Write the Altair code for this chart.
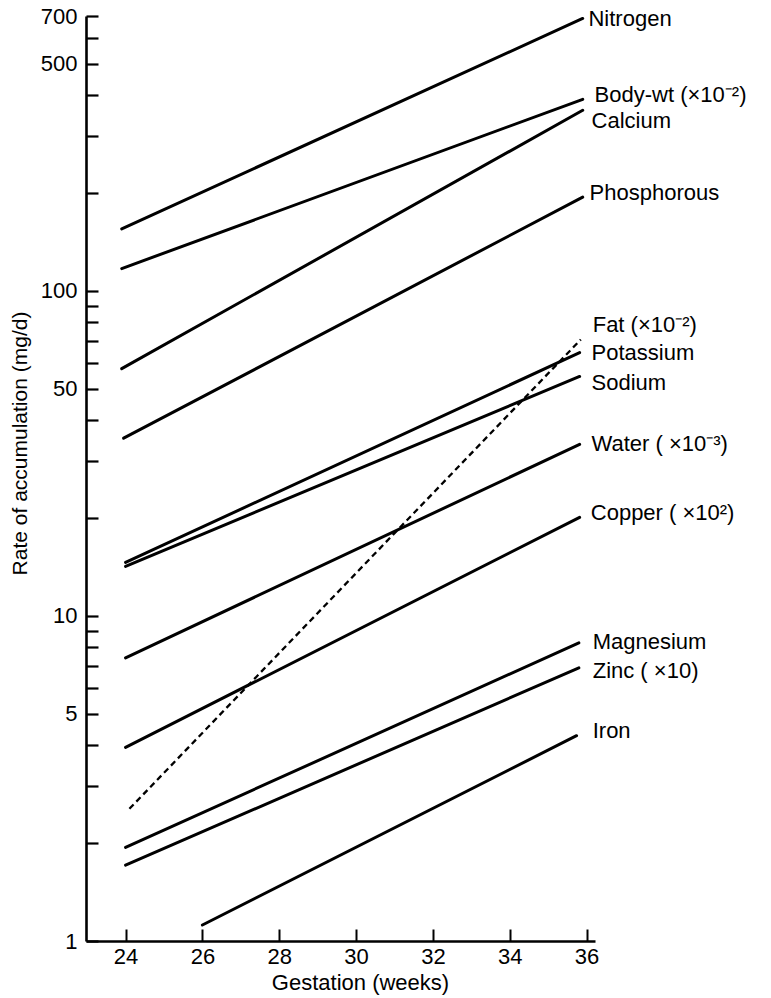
import altair as alt
import pandas as pd

# ---- data ----
series = ["Nitrogen", "Body-wt", "Calcium", "Phosphorous", "Fat", "Potassium",
          "Sodium", "Water", "Copper", "Magnesium", "Zinc", "Iron"]
start_week = [23.9, 23.9, 23.9, 23.95, 24.1, 24.0, 24.0, 24.0, 24.0, 24.0, 24.0, 26.0]
start_val = [155, 117, 57.6, 35.2, 2.55, 14.6, 14.2, 7.43, 3.94, 1.94, 1.71, 1.12]
end_week = [35.9, 35.9, 35.9, 35.9, 35.85, 35.82, 35.82, 35.82, 35.82, 35.8, 35.8, 35.74]
end_val = [688, 388, 359, 194, 70.8, 64.5, 54.5, 33.7, 20.1, 8.26, 6.92, 4.28]
dashed = [False, False, False, False, True, False, False, False, False, False, False, False]

label_text = ["Nitrogen", "Body-wt (×10⁻²)", "Calcium", "Phosphorous", "Fat (×10⁻²)",
              "Potassium", "Sodium", "Water ( ×10⁻³)", "Copper ( ×10²)", "Magnesium",
              "Zinc ( ×10)", "Iron"]
label_week = [36.05, 36.21, 36.13, 36.08, 36.16, 36.13, 36.13, 36.13, 36.11, 36.16, 36.16, 36.16]
label_val = [687, 400, 332, 200, 78.4, 64.5, 52.2, 33.8, 20.7, 8.3, 6.76, 4.42]

x_ticks = [24, 26, 28, 30, 32, 34, 36]
y_labels = [1, 5, 10, 50, 100, 500, 700]
y_ticks = [1, 2, 3, 4, 5, 6, 7, 8, 9, 10, 20, 30, 40, 50, 60, 70, 80, 90,
           100, 200, 300, 400, 500, 600, 700]

rows = []
for s, sw, sv, ew, ev, d in zip(series, start_week, start_val, end_week, end_val, dashed):
    rows.append({"series": s, "week": sw, "value": sv, "dashed": d})
    rows.append({"series": s, "week": ew, "value": ev, "dashed": d})
lines_df = pd.DataFrame(rows)
labels_df = pd.DataFrame({"label": label_text, "week": label_week, "value": label_val})

FONT = "Liberation Sans"
xs = alt.Scale(domain=[22.97, 36.22], nice=False, zero=False)
ys = alt.Scale(type="log", domain=[1, 700], nice=False)

x_main = alt.Axis(values=x_ticks, ticks=False, tickSize=0, grid=False, orient="bottom",
                  domainColor="black", domainWidth=2.6, labelFont=FONT, labelFontSize=22,
                  labelColor="black", labelPadding=5, labelFlush=False, labelOverlap=False,
                  format="d", title="Gestation (weeks)", titleFont=FONT, titleFontSize=22,
                  titleFontWeight="normal", titleColor="black", titleX=274, titleY=41,
                  titleBaseline="middle", titleAlign="center")
y_main = alt.Axis(values=y_labels, ticks=False, tickSize=0, grid=False, orient="left",
                  domainColor="black", domainWidth=2.6, labelFont=FONT, labelFontSize=22,
                  labelColor="black", labelPadding=9, labelFlush=False, labelOverlap=False,
                  format="d", title="Rate of accumulation (mg/d)", titleFont=FONT,
                  titleFontSize=21, titleFontWeight="normal", titleColor="black",
                  titleX=-66, titleY=427, titleAngle=270, titleBaseline="middle",
                  titleAlign="center")
x_tick_axis = alt.Axis(values=x_ticks, ticks=True, tickSize=12, tickWidth=2, tickColor="black",
                       domain=False, labels=False, grid=False, title=None, offset=-12,
                       orient="bottom")
y_tick_axis = alt.Axis(values=y_ticks, ticks=True, tickSize=12, tickWidth=2.2, tickColor="black",
                       domain=False, labels=False, grid=False, title=None, offset=-12,
                       orient="left")

base = alt.Chart(lines_df)

solid = base.transform_filter("!datum.dashed").mark_line(
    color="black", strokeWidth=3, strokeCap="round"
).encode(
    x=alt.X("week:Q", scale=xs, axis=x_main),
    y=alt.Y("value:Q", scale=ys, axis=y_main),
    detail="series:N",
)

dash = base.transform_filter("datum.dashed").mark_line(
    color="black", strokeWidth=2.3, strokeDash=[6, 4]
).encode(
    x=alt.X("week:Q", scale=xs, axis=x_tick_axis),
    y=alt.Y("value:Q", scale=ys, axis=y_tick_axis),
    detail="series:N",
)

labels = alt.Chart(labels_df).mark_text(
    align="left", baseline="middle", font=FONT, fontSize=22, color="black"
).encode(
    x=alt.X("week:Q", scale=xs, axis=None),
    y=alt.Y("value:Q", scale=ys, axis=None),
    text="label:N",
)

chart = alt.layer(solid, dash, labels).resolve_axis(
    x="independent", y="independent"
).properties(
    width=509, height=925, autosize="none",
    padding={"left": 86, "top": 16, "right": 176, "bottom": 57},
    background="white",
).configure_view(stroke=None)

chart.save("out.html", embed_options={"renderer": "svg", "actions": False})
